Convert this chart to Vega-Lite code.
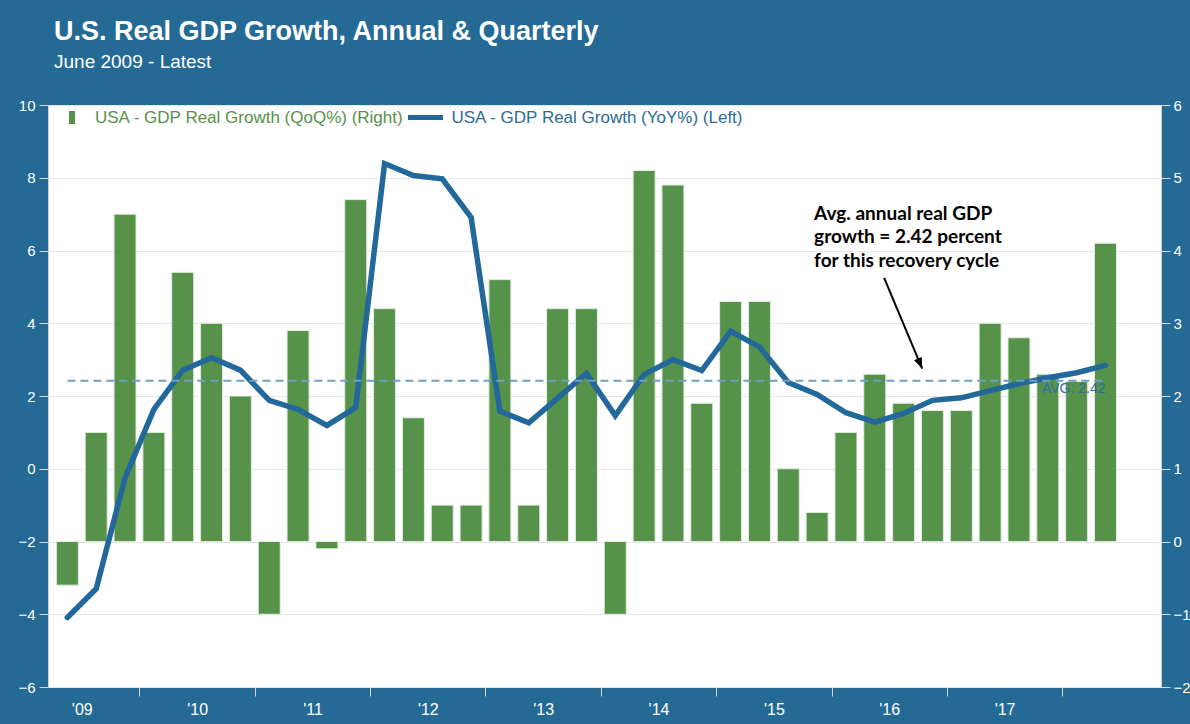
{
  "$schema": "https://vega.github.io/schema/vega-lite/v6.json",
  "width": 1113,
  "height": 582,
  "autosize": "none",
  "padding": {"left": 48, "top": 105, "right": 29, "bottom": 37},
  "background": "#246a94",
  "title": {
    "text": "U.S. Real GDP Growth, Annual & Quarterly",
    "subtitle": "June 2009 - Latest",
    "anchor": "start",
    "frame": "group",
    "dx": 6,
    "offset": 25,
    "font": "Liberation Sans",
    "fontSize": 27,
    "fontWeight": "bold",
    "color": "white",
    "subtitleFont": "Liberation Sans",
    "subtitleFontSize": 19,
    "subtitleColor": "white",
    "subtitlePadding": 7
  },
  "config": {
    "view": {"fill": "white", "stroke": "#d0d0d0", "strokeWidth": 1},
    "axis": {
      "labelFont": "Liberation Sans",
      "labelFontSize": 15,
      "labelColor": "white",
      "tickColor": "#d8d8d8",
      "tickSize": 9,
      "domain": false
    },
    "legend": {
      "labelFont": "Liberation Sans",
      "labelFontSize": 17,
      "labelLimit": 400,
      "padding": 0,
      "title": null
    }
  },
  "datasets": {
    "gdp": [
      {"quarter": "2009Q2", "t": 2009.375, "qoq": -0.6, "yoy": -4.09},
      {"quarter": "2009Q3", "t": 2009.625, "qoq": 1.5, "yoy": -3.30},
      {"quarter": "2009Q4", "t": 2009.875, "qoq": 4.5, "yoy": -0.25},
      {"quarter": "2010Q1", "t": 2010.125, "qoq": 1.5, "yoy": 1.63},
      {"quarter": "2010Q2", "t": 2010.375, "qoq": 3.7, "yoy": 2.71},
      {"quarter": "2010Q3", "t": 2010.625, "qoq": 3.0, "yoy": 3.05},
      {"quarter": "2010Q4", "t": 2010.875, "qoq": 2.0, "yoy": 2.71},
      {"quarter": "2011Q1", "t": 2011.125, "qoq": -1.0, "yoy": 1.88},
      {"quarter": "2011Q2", "t": 2011.375, "qoq": 2.9, "yoy": 1.63},
      {"quarter": "2011Q3", "t": 2011.625, "qoq": -0.1, "yoy": 1.19},
      {"quarter": "2011Q4", "t": 2011.875, "qoq": 4.7, "yoy": 1.68},
      {"quarter": "2012Q1", "t": 2012.125, "qoq": 3.2, "yoy": 8.39},
      {"quarter": "2012Q2", "t": 2012.375, "qoq": 1.7, "yoy": 8.06},
      {"quarter": "2012Q3", "t": 2012.625, "qoq": 0.5, "yoy": 7.97},
      {"quarter": "2012Q4", "t": 2012.875, "qoq": 0.5, "yoy": 6.91},
      {"quarter": "2013Q1", "t": 2013.125, "qoq": 3.6, "yoy": 1.58},
      {"quarter": "2013Q2", "t": 2013.375, "qoq": 0.5, "yoy": 1.26},
      {"quarter": "2013Q3", "t": 2013.625, "qoq": 3.2, "yoy": 1.94},
      {"quarter": "2013Q4", "t": 2013.875, "qoq": 3.2, "yoy": 2.62},
      {"quarter": "2014Q1", "t": 2014.125, "qoq": -1.0, "yoy": 1.46},
      {"quarter": "2014Q2", "t": 2014.375, "qoq": 5.1, "yoy": 2.59},
      {"quarter": "2014Q3", "t": 2014.625, "qoq": 4.9, "yoy": 3.00},
      {"quarter": "2014Q4", "t": 2014.875, "qoq": 1.9, "yoy": 2.70},
      {"quarter": "2015Q1", "t": 2015.125, "qoq": 3.3, "yoy": 3.78},
      {"quarter": "2015Q2", "t": 2015.375, "qoq": 3.3, "yoy": 3.35},
      {"quarter": "2015Q3", "t": 2015.625, "qoq": 1.0, "yoy": 2.37},
      {"quarter": "2015Q4", "t": 2015.875, "qoq": 0.4, "yoy": 2.04},
      {"quarter": "2016Q1", "t": 2016.125, "qoq": 1.5, "yoy": 1.54},
      {"quarter": "2016Q2", "t": 2016.375, "qoq": 2.3, "yoy": 1.28},
      {"quarter": "2016Q3", "t": 2016.625, "qoq": 1.9, "yoy": 1.52},
      {"quarter": "2016Q4", "t": 2016.875, "qoq": 1.8, "yoy": 1.88},
      {"quarter": "2017Q1", "t": 2017.125, "qoq": 1.8, "yoy": 1.95},
      {"quarter": "2017Q2", "t": 2017.375, "qoq": 3.0, "yoy": 2.15},
      {"quarter": "2017Q3", "t": 2017.625, "qoq": 2.8, "yoy": 2.34},
      {"quarter": "2017Q4", "t": 2017.875, "qoq": 2.3, "yoy": 2.50},
      {"quarter": "2018Q1", "t": 2018.125, "qoq": 2.2, "yoy": 2.64},
      {"quarter": "2018Q2", "t": 2018.375, "qoq": 4.1, "yoy": 2.84}
    ],
    "avg": [
      {"start": 2009.375, "end": 2018.375, "avg": 2.42, "label": "AVG: 2.42"}
    ],
    "note": [
      {"x": 2015.849, "y": 6.85, "text": ["Avg. annual real GDP", "growth = 2.42 percent", "for this recovery cycle"]}
    ],
    "arrow": [
      {"x1": 2016.456, "y1": 5.25, "x2": 2016.786, "y2": 2.75}
    ]
  },
  "resolve": {"scale": {"y": "independent"}},
  "layer": [
    {
      "data": {"name": "gdp"},
      "mark": {"type": "bar", "width": 22, "stroke": "#e3ece1", "strokeWidth": 1},
      "encoding": {
        "x": {
          "field": "t", "type": "quantitative", "title": null,
          "scale": {"domain": [2009.2504, 2018.813], "nice": false, "zero": false},
          "axis": {
            "values": [2009.5, 2010, 2010.5, 2011, 2011.5, 2012, 2012.5, 2013, 2013.5, 2014, 2014.5, 2015, 2015.5, 2016, 2016.5, 2017, 2017.5, 2018],
            "labelExpr": "datum.value % 1 == 0.5 ? \"'\" + substring(toString(floor(datum.value)), 2, 4) : ''",
            "tickOpacity": {"condition": {"test": "datum.value % 1 != 0", "value": 0}, "value": 1},
            "grid": false,
            "labelFlush": false,
            "labelOverlap": false,
            "labelFontSize": 16,
            "labelPadding": 5
          }
        },
        "y": {
          "field": "qoq", "type": "quantitative", "title": null,
          "scale": {"domain": [-2, 6], "nice": false, "zero": true},
          "axis": {"orient": "right", "values": [-2, -1, 0, 1, 2, 3, 4, 5, 6], "grid": false, "labelPadding": 3}
        },
        "fill": {
          "datum": "USA - GDP Real Growth (QoQ%) (Right)", "type": "nominal",
          "scale": {"range": ["#56924a"]},
          "legend": {
            "orient": "none",
            "legendX": 15.5,
            "legendY": 4,
            "symbolType": "M-0.46,-1H0.46V1H-0.46Z",
            "symbolSize": 169,
            "symbolStrokeWidth": 0,
            "symbolStrokeColor": "transparent",
            "labelColor": "#56924a",
            "labelOffset": 14.5
          }
        }
      }
    },
    {
      "layer": [
        {
          "data": {"name": "gdp"},
          "mark": {"type": "line", "strokeWidth": 5.5, "strokeCap": "round"},
          "encoding": {
            "x": {"field": "t", "type": "quantitative", "title": null},
            "y": {
              "field": "yoy", "type": "quantitative", "title": null,
              "scale": {"domain": [-6, 10], "nice": false, "zero": false},
              "axis": {"orient": "left", "values": [-6, -4, -2, 0, 2, 4, 6, 8, 10], "grid": true, "gridColor": "#e6e6e6", "labelPadding": 4}
            },
            "stroke": {
              "datum": "USA - GDP Real Growth (YoY%) (Left)", "type": "nominal",
              "scale": {"range": ["#23689a"]},
              "legend": {
                "orient": "none",
                "legendX": 357.5,
                "legendY": -7.5,
                "symbolType": "stroke",
                "symbolSize": 1225,
                "symbolStrokeWidth": 5,
                "labelColor": "#2b6b97",
                "labelOffset": 6
              }
            }
          }
        },
        {
          "data": {"name": "avg"},
          "mark": {"type": "rule", "color": "#6f9fc4", "strokeWidth": 2, "strokeDash": [8, 5]},
          "encoding": {
            "x": {"field": "start", "type": "quantitative", "title": null},
            "x2": {"field": "end"},
            "y": {"field": "avg", "type": "quantitative", "title": null}
          }
        },
        {
          "data": {"name": "avg"},
          "mark": {"type": "text", "align": "right", "baseline": "alphabetic", "dy": 12.5, "font": "Liberation Sans", "fontSize": 14, "color": "#2f6f9f"},
          "encoding": {
            "x": {"field": "end", "type": "quantitative", "title": null},
            "y": {"field": "avg", "type": "quantitative", "title": null},
            "text": {"field": "label"}
          }
        },
        {
          "data": {"name": "note"},
          "mark": {"type": "text", "align": "left", "baseline": "alphabetic", "font": "Lato", "fontWeight": "bold", "fontSize": 19, "lineHeight": 23.5, "color": "black"},
          "encoding": {
            "x": {"field": "x", "type": "quantitative", "title": null},
            "y": {"field": "y", "type": "quantitative", "title": null},
            "text": {"field": "text"}
          }
        },
        {
          "data": {"name": "arrow"},
          "mark": {"type": "rule", "color": "black", "strokeWidth": 2},
          "encoding": {
            "x": {"field": "x1", "type": "quantitative", "title": null},
            "x2": {"field": "x2"},
            "y": {"field": "y1", "type": "quantitative", "title": null},
            "y2": {"field": "y2"}
          }
        },
        {
          "data": {"name": "arrow"},
          "mark": {"type": "point", "shape": "M0,0L-0.38,-1L0.38,-1Z", "size": 484, "angle": -22.8, "filled": true, "color": "black", "opacity": 1},
          "encoding": {
            "x": {"field": "x2", "type": "quantitative", "title": null},
            "y": {"field": "y2", "type": "quantitative", "title": null}
          }
        }
      ]
    }
  ]
}
